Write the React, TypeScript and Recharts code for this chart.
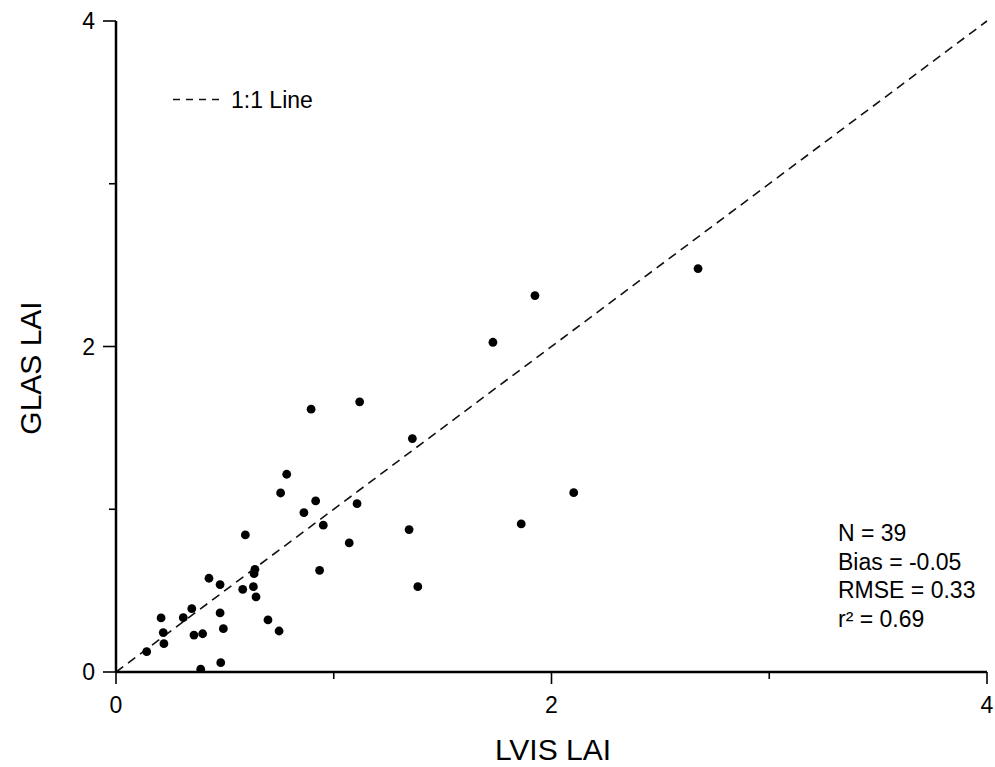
import React from "react";
import {
  ScatterChart,
  Scatter,
  XAxis,
  YAxis,
  ReferenceLine,
  Customized,
} from "recharts";

// LVIS-derived LAI (x) against GLAS-derived LAI (y), one entry per footprint
const lvisLai = [
  0.141, 0.207, 0.217, 0.22, 0.309, 0.348, 0.358, 0.398, 0.389, 0.427,
  0.478, 0.478, 0.493, 0.481, 0.582, 0.594, 0.631, 0.638, 0.634, 0.643,
  0.698, 0.749, 0.756, 0.784, 0.863, 0.896, 0.917, 0.935, 0.952, 1.071,
  1.107, 1.119, 1.346, 1.361, 1.386, 1.731, 1.861, 1.924, 2.102, 2.673,
];
const glasLai = [
  0.125, 0.332, 0.242, 0.174, 0.334, 0.389, 0.227, 0.235, 0.017, 0.576,
  0.537, 0.363, 0.266, 0.057, 0.508, 0.842, 0.524, 0.631, 0.604, 0.461,
  0.32, 0.252, 1.1, 1.215, 0.979, 1.615, 1.051, 0.625, 0.902, 0.793,
  1.034, 1.66, 0.875, 1.434, 0.524, 2.026, 0.91, 2.313, 1.102, 2.479,
];

const axisTicks = [0, 1, 2, 3, 4];
const labelledTicks = [0, 2, 4];

const statLines = ["N = 39", "Bias = -0.05", "RMSE = 0.33", "r\u00B2 = 0.69"];
const lineLabel = "1:1 Line";
const xTitle = "LVIS LAI";
const yTitle = "GLAS LAI";

const points = lvisLai.map((x, i) => ({ x, y: glasLai[i] }));

const FONT = '"Liberation Sans", Arial, Helvetica, sans-serif';
const W = 995;
const H = 767;

const XTick = (props: any) => {
  const { x, y, payload } = props;
  const major = labelledTicks.includes(payload.value);
  return (
    <g>
      <line x1={x} x2={x} y1={y} y2={y + (major ? 12 : 7)} stroke="#000" strokeWidth={1.6} />
      {major && (
        <text x={x} y={y + 41} textAnchor="middle" fontSize={23} fontFamily={FONT} fill="#000">
          {payload.value}
        </text>
      )}
    </g>
  );
};

const YTick = (props: any) => {
  const { x, y, payload } = props;
  const major = labelledTicks.includes(payload.value);
  return (
    <g>
      <line x1={x} x2={x - (major ? 13 : 7)} y1={y} y2={y} stroke="#000" strokeWidth={1.6} />
      {major && (
        <text x={x - 21} y={y + 8} textAnchor="end" fontSize={23} fontFamily={FONT} fill="#000">
          {payload.value}
        </text>
      )}
    </g>
  );
};

const Annotations = () => (
  <g fontFamily={FONT} fill="#000">
    {/* key for the 1:1 reference line */}
    <line x1={173} x2={222} y1={99.5} y2={99.5} stroke="#111" strokeWidth={1.6} strokeDasharray="7 6" />
    <text x={231} y={107.5} fontSize={23}>{lineLabel}</text>
    {/* agreement statistics */}
    {statLines.map((s, i) => (
      <text key={s} x={838} y={541 + i * 28.5} fontSize={23}>
        {s}
      </text>
    ))}
    {/* axis titles */}
    <text x={553} y={760} fontSize={30} textAnchor="middle">{xTitle}</text>
    <text
      x={30}
      y={368}
      fontSize={30}
      textAnchor="middle"
      dominantBaseline="central"
      transform="rotate(-90 30 368)"
    >
      {yTitle}
    </text>
  </g>
);

export default function App() {
  return (
    <div style={{ position: "absolute", left: 0, top: 0, width: W, height: H, background: "#fff" }}>
      <ScatterChart
        width={W}
        height={H}
        margin={{ top: 21, right: 8, left: 16, bottom: 5 }}
      >
        <XAxis
          type="number"
          dataKey="x"
          domain={[0, 4]}
          ticks={axisTicks}
          allowDataOverflow
          height={90}
          tickSize={0}
          tickMargin={0}
          tickLine={false}
          axisLine={{ stroke: "#000", strokeWidth: 2.5 }}
          tick={<XTick />}
          interval={0}
        />
        <YAxis
          type="number"
          dataKey="y"
          domain={[0, 4]}
          ticks={axisTicks}
          allowDataOverflow
          width={100}
          tickSize={0}
          tickMargin={0}
          tickLine={false}
          axisLine={{ stroke: "#000", strokeWidth: 2.5 }}
          tick={<YTick />}
          interval={0}
        />
        <ReferenceLine
          segment={[
            { x: 0, y: 0 },
            { x: 4, y: 4 },
          ]}
          stroke="#111"
          strokeWidth={1.6}
          strokeDasharray="9 6"
          ifOverflow="visible"
        />
        <Scatter
          data={points}
          isAnimationActive={false}
          shape={(p: any) => <circle cx={p.cx} cy={p.cy} r={4.4} fill="#000" />}
        />
        <Customized component={Annotations} />
      </ScatterChart>
    </div>
  );
}
